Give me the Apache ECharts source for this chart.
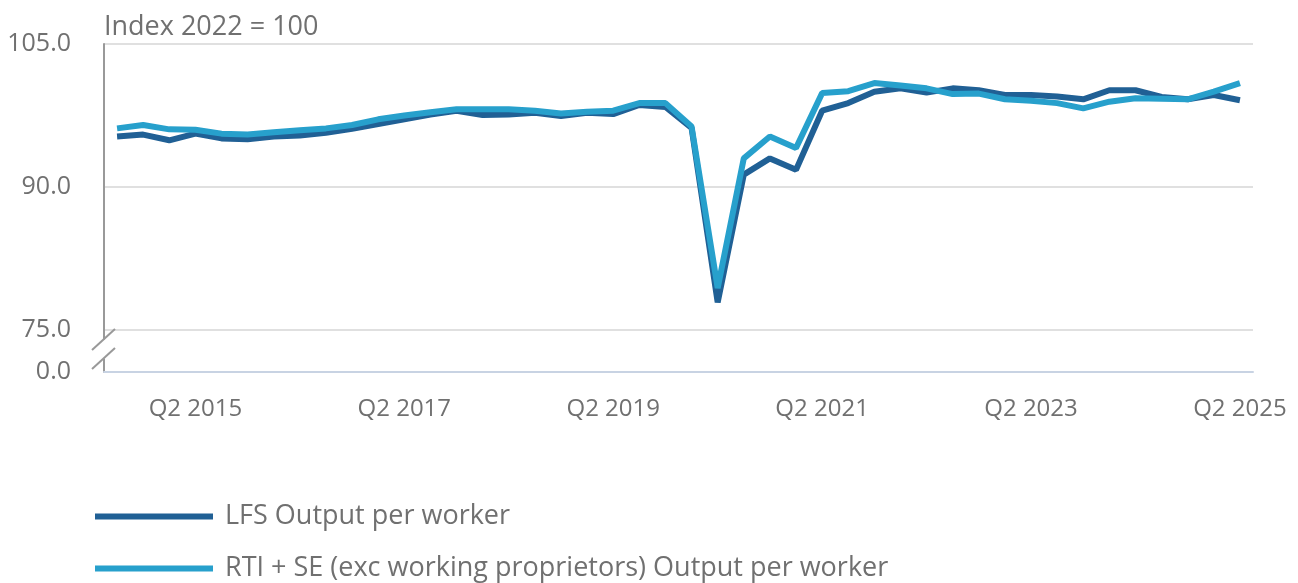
<!DOCTYPE html>
<html>
<head>
<meta charset="utf-8">
<script src="https://cdn.jsdelivr.net/npm/echarts@6/dist/echarts.min.js"></script>
<style>
  html, body { margin: 0; padding: 0; background: #fff; }
  #chart { width: 1298px; height: 583px; }
</style>
</head>
<body>
<div id="chart"></div>
<script>
// quarters, Q3 2014 .. Q2 2025
var quarters = [
  'Q3 2014', 'Q4 2014',
  'Q1 2015', 'Q2 2015', 'Q3 2015', 'Q4 2015',
  'Q1 2016', 'Q2 2016', 'Q3 2016', 'Q4 2016',
  'Q1 2017', 'Q2 2017', 'Q3 2017', 'Q4 2017',
  'Q1 2018', 'Q2 2018', 'Q3 2018', 'Q4 2018',
  'Q1 2019', 'Q2 2019', 'Q3 2019', 'Q4 2019',
  'Q1 2020', 'Q2 2020', 'Q3 2020', 'Q4 2020',
  'Q1 2021', 'Q2 2021', 'Q3 2021', 'Q4 2021',
  'Q1 2022', 'Q2 2022', 'Q3 2022', 'Q4 2022',
  'Q1 2023', 'Q2 2023', 'Q3 2023', 'Q4 2023',
  'Q1 2024', 'Q2 2024', 'Q3 2024', 'Q4 2024',
  'Q1 2025', 'Q2 2025'
];

var lfsOutput = [
  95.3, 95.5,
  94.9, 95.6, 95.1, 95.0,
  95.3, 95.4, 95.7, 96.1,
  96.6, 97.1, 97.6, 98.0,
  97.55, 97.6, 97.8, 97.45,
  97.8, 97.65, 98.6, 98.4,
  96.2, 77.9, 91.3, 93.0,
  91.8, 98.0, 98.8, 100.0,
  100.35, 99.9, 100.35, 100.15,
  99.65, 99.65, 99.5, 99.2,
  100.15, 100.15, 99.45, 99.2,
  99.65, 99.1
];

var rtiOutput = [
  96.15, 96.5,
  96.05, 96.0, 95.6, 95.5,
  95.75, 95.95, 96.15, 96.5,
  97.1, 97.5, 97.85, 98.15,
  98.15, 98.15, 98.0, 97.7,
  97.9, 98.0, 98.8, 98.8,
  96.35, 79.4, 93.0, 95.3,
  94.1, 99.85, 100.05, 100.9,
  100.65, 100.35, 99.75, 99.8,
  99.2, 99.05, 98.8, 98.25,
  98.95, 99.3, 99.25, 99.2,
  100.0, 100.9
];

// axis is broken between 0 and 75
var yBottom = 70.6;
var yTicks = [yBottom, 75, 90, 105];

var seriesNames = ['LFS Output per worker', 'RTI + SE (exc working proprietors) Output per worker'];

var textGrey = '#707070';
var font = 'Open Sans';

var chart = echarts.init(document.getElementById('chart'));

function showQ2(index) {
  return (index - 3) % 8 === 0;
}

function legendFor(name, top) {
  return {
    left: 95,
    top: top,
    padding: 0,
    icon: 'rect',
    itemWidth: 118,
    itemHeight: 6,
    data: [name],
    textStyle: { color: textGrey, fontSize: 27, fontFamily: font, padding: [0, 0, 0, 7] }
  };
}

chart.setOption({
  animation: false,
  color: ['#206095', '#27a0cc'],
  grid: { left: 104, right: 45, top: 44, bottom: 211 },
  legend: [
    legendFor(seriesNames[0], 503),
    legendFor(seriesNames[1], 555)
  ],
  xAxis: {
    type: 'category',
    data: quarters,
    boundaryGap: true,
    axisLine: { lineStyle: { color: '#c8d3e3', width: 2 } },
    axisTick: {
      alignWithLabel: true,
      interval: showQ2,
      length: 13,
      lineStyle: { color: '#c8d3e3', width: 2 }
    },
    axisLabel: {
      interval: showQ2,
      margin: 25,
      color: textGrey,
      fontSize: 24,
      fontFamily: font
    },
    splitLine: { show: false }
  },
  yAxis: {
    type: 'value',
    min: yBottom,
    max: 105,
    name: 'Index 2022 = 100',
    nameLocation: 'end',
    nameGap: 17,
    nameTextStyle: { color: textGrey, fontSize: 27, fontFamily: font, align: 'left', verticalAlign: 'middle' },
    axisLine: { show: true, lineStyle: { color: '#999999', width: 2 } },
    axisTick: { show: false, customValues: yTicks },
    axisLabel: {
      customValues: yTicks,
      margin: 33,
      color: textGrey,
      fontSize: 25,
      fontFamily: font,
      formatter: function (v) {
        return v < 74 ? '0.0' : v.toFixed(1);
      }
    },
    splitLine: { show: true, lineStyle: { color: '#e0e0e0', width: 2 } }
  },
  series: [
    {
      name: seriesNames[0],
      type: 'line',
      data: lfsOutput,
      symbol: 'none',
      lineStyle: { width: 6 },
      z: 2
    },
    {
      name: seriesNames[1],
      type: 'line',
      data: rtiOutput,
      symbol: 'none',
      lineStyle: { width: 6 },
      z: 3
    }
  ]
});

// axis break marks
var x0 = 104;
var y75 = chart.convertToPixel({ yAxisIndex: 0 }, 75);
var y0 = chart.convertToPixel({ yAxisIndex: 0 }, yBottom);
var s1 = y75 + 9.5, s2 = y0 - 13.5;
chart.setOption({
  graphic: [
    { type: 'rect', z: 100, shape: { x: x0 - 3, y: s1, width: 6, height: s2 - s1 }, style: { fill: '#fff' } },
    { type: 'line', z: 101, shape: { x1: x0 - 12, y1: s1 + 10.5, x2: x0 + 11, y2: s1 - 10.5 }, style: { stroke: '#999999', lineWidth: 2 } },
    { type: 'line', z: 101, shape: { x1: x0 - 12, y1: s2 + 10.5, x2: x0 + 11, y2: s2 - 10.5 }, style: { stroke: '#999999', lineWidth: 2 } }
  ]
});
</script>
</body>
</html>
